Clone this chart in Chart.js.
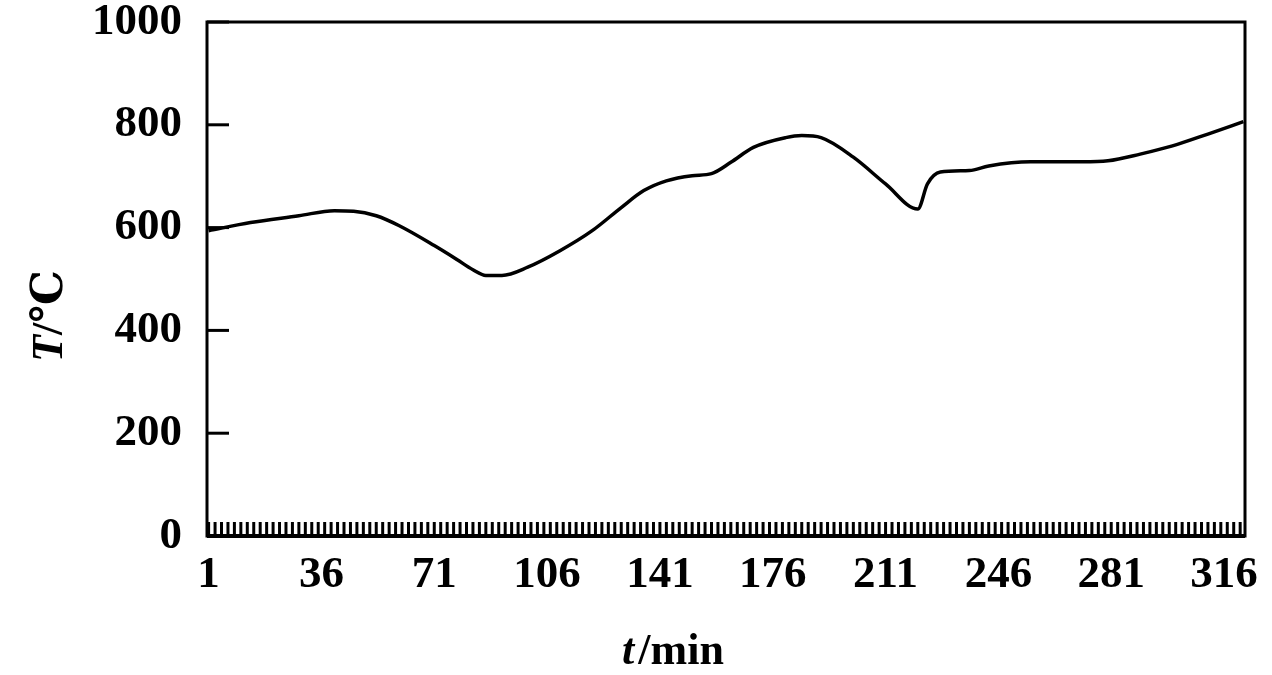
<!DOCTYPE html>
<html>
<head>
<meta charset="utf-8">
<script src="https://cdn.jsdelivr.net/npm/chart.js@4.4.0/dist/chart.umd.min.js"></script>
<style>
  html, body { margin: 0; padding: 0; background: #fff; }
  #wrap { width: 1272px; height: 675px; }
</style>
</head>
<body>
<div id="wrap"><canvas id="tempChart"></canvas></div>
<script>
// time (min) and furnace temperature (C)
const minutes = [1, 14, 29, 40, 46, 53, 60, 71, 78, 83, 87, 92, 100, 110, 120, 129, 136, 143, 151, 157, 163, 170, 180, 185, 191, 201, 211, 221, 224, 228, 237, 243, 256, 272, 280, 290, 300, 311, 322];
const temps   = [594, 610, 623, 633, 632, 623, 604, 565, 538, 518, 507, 507, 523, 555, 594, 639, 672, 691, 701, 705, 727, 756, 775, 779, 775, 737, 685, 636, 685, 708, 711, 720, 728, 728, 730, 743, 759, 782, 806];

const xTickLabels = [1, 36, 71, 106, 141, 176, 211, 246, 281, 316];
const yTickLabels = [0, 200, 400, 600, 800, 1000];

const FONT = "'Liberation Serif', 'DejaVu Serif', serif";

// frame, inward ticks and axis titles
const framePlugin = {
  id: "frame",
  afterDraw(chart) {
    const ctx = chart.ctx;
    const a = chart.chartArea;
    const xs = chart.scales.x, ys = chart.scales.y;
    ctx.save();
    ctx.strokeStyle = "#000";
    ctx.lineWidth = 3;
    ctx.strokeRect(a.left, a.top, a.right - a.left, a.bottom - a.top);

    // y ticks pointing into the plot
    ys.ticks.forEach(t => {
      const y = ys.getPixelForValue(t.value);
      ctx.beginPath();
      ctx.moveTo(a.left, y);
      ctx.lineTo(a.left + 22, y);
      ctx.stroke();
    });

    // dense minor ticks along the time axis
    ctx.lineWidth = 3;
    for (let v = 1; v <= xs.max; v += 2) {
      const x = xs.getPixelForValue(v);
      ctx.beginPath();
      ctx.moveTo(x, a.bottom);
      ctx.lineTo(x, a.bottom - 14);
      ctx.stroke();
    }
    ctx.lineWidth = 4;
    ctx.beginPath();
    ctx.moveTo(a.left, a.bottom);
    ctx.lineTo(a.right, a.bottom);
    ctx.stroke();

    // x title: t/min
    ctx.fillStyle = "#000";
    ctx.textBaseline = "alphabetic";
    ctx.font = "italic bold 44px " + FONT;
    const w1 = ctx.measureText("t").width;
    ctx.font = "bold 44px " + FONT;
    const w2 = ctx.measureText("/min").width;
    let x0 = 673 - (w1 + w2 + 4) / 2;
    ctx.font = "italic bold 44px " + FONT;
    ctx.fillText("t", x0, 664);
    ctx.font = "bold 44px " + FONT;
    ctx.fillText("/min", x0 + w1 + 4, 664);

    // y title: T/℃ rotated
    ctx.translate(62, 316);
    ctx.rotate(-Math.PI / 2);
    ctx.font = "italic bold 44px " + FONT;
    const v1 = ctx.measureText("T").width;
    ctx.font = "bold 44px " + FONT;
    const v2 = ctx.measureText("/℃").width;
    const s0 = -(v1 + v2) / 2;
    ctx.font = "italic bold 44px " + FONT;
    ctx.fillText("T", s0, 0);
    ctx.font = "bold 44px " + FONT;
    ctx.fillText("/℃", s0 + v1, 0);
    ctx.restore();
  }
};

new Chart(document.getElementById("tempChart"), {
  type: "line",
  data: {
    datasets: [{
      label: "T",
      data: minutes.map((m, i) => ({ x: m, y: temps[i] })),
      borderColor: "#000",
      borderWidth: 3.5,
      pointRadius: 0,
      cubicInterpolationMode: "monotone",
      fill: false
    }]
  },
  options: {
    responsive: true,
    maintainAspectRatio: false,
    animation: false,
    layout: { padding: { left: 0, right: 27, top: 22, bottom: 0 } },
    plugins: { legend: { display: false }, tooltip: { enabled: false } },
    scales: {
      x: {
        type: "linear",
        min: 0.5,
        max: 322.5,
        afterBuildTicks: s => { s.ticks = xTickLabels.map(v => ({ value: v })); },
        afterFit: s => { s.height = 139; s.paddingLeft = 0; s.paddingRight = 0; },
        grid: { display: false, drawTicks: false },
        border: { display: false },
        ticks: {
          color: "#000",
          padding: 12,
          maxRotation: 0,
          autoSkip: false,
          font: { family: FONT, size: 45, weight: "bold" }
        }
      },
      y: {
        min: 0,
        max: 1000,
        afterBuildTicks: s => { s.ticks = yTickLabels.map(v => ({ value: v })); },
        afterFit: s => { s.width = 207; s.paddingTop = 0; s.paddingBottom = 0; },
        grid: { display: false, drawTicks: false },
        border: { display: false },
        ticks: {
          color: "#000",
          padding: 25,
          callback: v => String(v),
          font: { family: FONT, size: 45, weight: "bold" }
        }
      }
    }
  },
  plugins: [framePlugin]
});
</script>
</body>
</html>
